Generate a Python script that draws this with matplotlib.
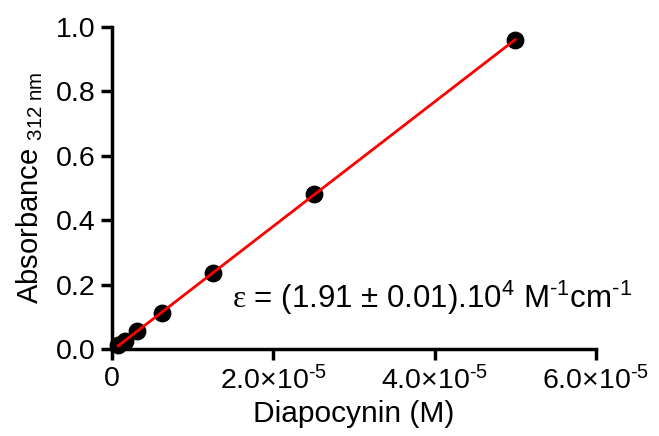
import matplotlib
matplotlib.use("Agg")
import matplotlib.pyplot as plt
import numpy as np
from matplotlib.ticker import FixedLocator

plt.rcParams['font.family'] = ['Liberation Sans', 'DejaVu Sans']
plt.rcParams['mathtext.fontset'] = 'custom'
plt.rcParams['mathtext.rm'] = 'Liberation Sans'
plt.rcParams['mathtext.it'] = 'Liberation Sans:italic'
plt.rcParams['mathtext.bf'] = 'Liberation Sans:bold'
plt.rcParams['mathtext.sf'] = 'Liberation Serif'

conc = [7.8e-7, 1.56e-6, 3.125e-6, 6.25e-6, 1.25e-5, 2.5e-5, 5.0e-5]
absorb = [0.012, 0.025, 0.055, 0.113, 0.236, 0.480, 0.960]
xticks = [0, 2e-5, 4e-5, 6e-5]
xtick_labels = ['0', r'2.0×10$^{\text{-5}}$', r'4.0×10$^{\text{-5}}$', r'6.0×10$^{\text{-5}}$']
yticks = [0.0, 0.2, 0.4, 0.6, 0.8, 1.0]

fig = plt.figure(figsize=(6.59, 4.36), dpi=100)
ax = fig.add_axes([0.170, 0.1995, 0.734, 0.7385])

x = np.array(conc); y = np.array(absorb)
slope, intercept = np.polyfit(x, y, 1)
xf = np.array([x.min(), x.max()])
ax.plot(xf, slope * xf + intercept, color='#ff0000', lw=2.0, zorder=3)
ax.scatter(x, y, s=140, color='black', zorder=2, clip_on=False)

ax.set_xlim(0, 6e-5)
ax.set_ylim(0, 1.0)
ax.xaxis.set_major_locator(FixedLocator(xticks))
ax.set_xticklabels(xtick_labels)
ax.set_yticks(yticks)
ax.set_yticklabels([f'{v:.1f}' for v in yticks])

for s in ['top', 'right']:
    ax.spines[s].set_visible(False)
for s in ['left', 'bottom']:
    ax.spines[s].set_linewidth(2.5)
ax.tick_params(axis='both', direction='out', length=8, width=2.5, labelsize=20.5, pad=4)

ax.set_xlabel('Diapocynin (M)', fontsize=21.5, labelpad=4)
ax.set_ylabel(r'Absorbance $_{\mathregular{312\ nm}}$', fontsize=21, labelpad=8)

ax.text(1.49e-5, 0.16, r'$\mathsf{ε}$ = (1.91 $\pm$ 0.01).10$^{\mathregular{4}}$ M$^{\text{-1}}$cm$^{\text{-1}}$',
        fontsize=22.5, va='center', ha='left')

fig.savefig('out.png', dpi=100)
